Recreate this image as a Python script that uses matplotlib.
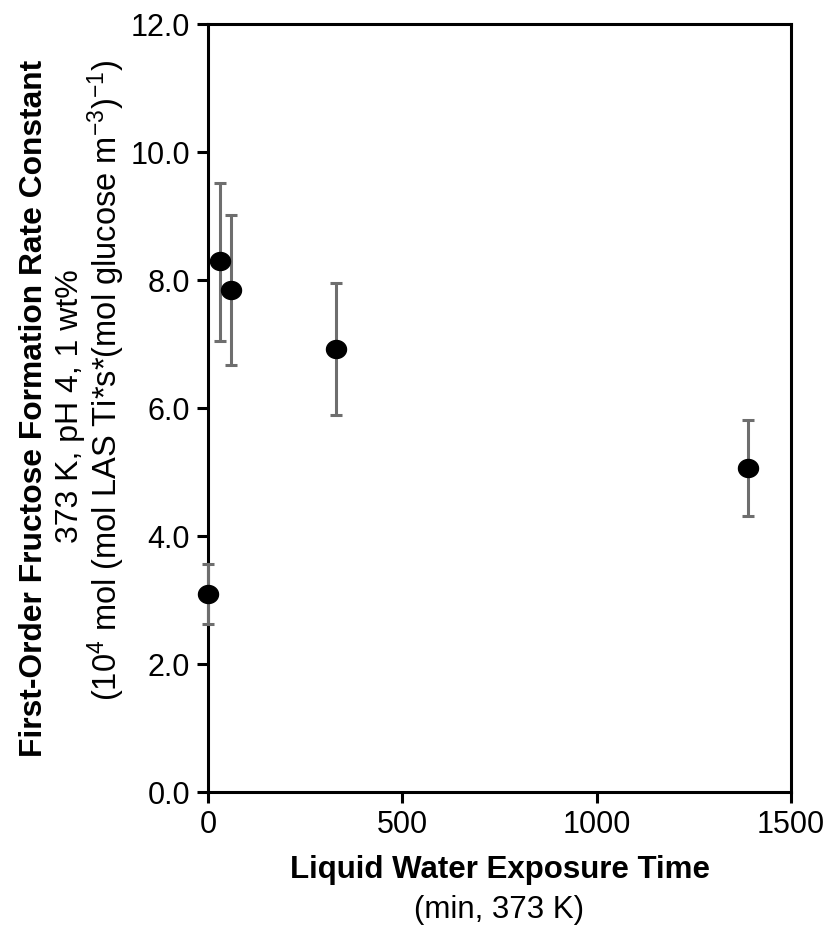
import matplotlib
matplotlib.use("Agg")
import matplotlib.pyplot as plt
import numpy as np
from matplotlib.path import Path

plt.rcParams['font.family'] = ['Liberation Sans', 'DejaVu Sans']
plt.rcParams['mathtext.fontset'] = 'custom'
plt.rcParams['mathtext.rm'] = 'Liberation Sans'
plt.rcParams['mathtext.it'] = 'Liberation Sans:italic'
plt.rcParams['mathtext.bf'] = 'Liberation Sans:bold'

# Data
exposure_time = [0, 31, 59, 329, 1390]
rate_constant = [3.09, 8.29, 7.85, 6.92, 5.06]
err_lower = [2.62, 7.05, 6.67, 5.89, 4.31]
err_upper = [3.57, 9.52, 9.02, 7.96, 5.82]
x_ticks = [0, 500, 1000, 1500]
y_ticks = [0, 2, 4, 6, 8, 10, 12]
y_tick_labels = ['0.0', '2.0', '4.0', '6.0', '8.0', '10.0', '12.0']

yerr = [[v - lo for v, lo in zip(rate_constant, err_lower)],
        [hi - v for v, hi in zip(rate_constant, err_upper)]]

# slightly flattened circle marker
t = np.linspace(0, 2 * np.pi, 65)
ell = Path(np.column_stack([np.cos(t), 0.9 * np.sin(t)]), closed=True)

fig = plt.figure(figsize=(8.31, 9.26), dpi=100)
ax = fig.add_axes([208/831, 1 - 792/926, (791-208)/831, (792-24)/926])

eb = ax.errorbar(exposure_time, rate_constant, yerr=yerr, fmt='none',
                 ecolor='#6e6e6e', elinewidth=2.2, capsize=4, capthick=2.2, zorder=3)
for art in eb.lines[1] + eb.lines[2]:
    art.set_clip_on(False)
for art in eb.lines[2]:
    art.set_clip_on(False)
ax.plot(exposure_time, rate_constant, linestyle='none', marker=ell, color='black',
        markersize=14.4, zorder=4, clip_on=False)

ax.set_xlim(0, 1500)
ax.set_ylim(0, 12)
ax.set_xticks(x_ticks)
ax.set_yticks(y_ticks)
ax.set_yticklabels(y_tick_labels)

for s in ax.spines.values():
    s.set_linewidth(2.2)
    s.set_color('black')
    s.set_zorder(2.5)
ax.tick_params(axis='both', direction='out', length=8, width=2.2,
               labelsize=22, colors='black', pad=5)

# Y label lines (rotated, anchored on baseline)
fig.text(42/831, 1 - 408/926, 'First-Order Fructose Formation Rate Constant',
         rotation=90, rotation_mode='anchor', ha='center', va='baseline',
         fontsize=22.9, fontweight='bold')
fig.text(78/831, 1 - 406/926, '373 K, pH 4, 1 wt%',
         rotation=90, rotation_mode='anchor', ha='center', va='baseline',
         fontsize=23)
fig.text(117/831, 1 - 380/926,
         r'(10$^{4}$ mol (mol LAS Ti*s*(mol glucose m$^{-3}$)$^{-1}$)',
         rotation=90, rotation_mode='anchor', ha='center', va='baseline',
         fontsize=23.5)

# X label lines
cx = (208 + 791) / 2 / 831
fig.text(cx, 1 - 878/926, 'Liquid Water Exposure Time', ha='center', va='baseline',
         fontsize=22.5, fontweight='bold')
fig.text(cx, 1 - 918/926, '(min, 373 K)', ha='center', va='baseline', fontsize=22.5)

fig.savefig('out.png', dpi=100)
